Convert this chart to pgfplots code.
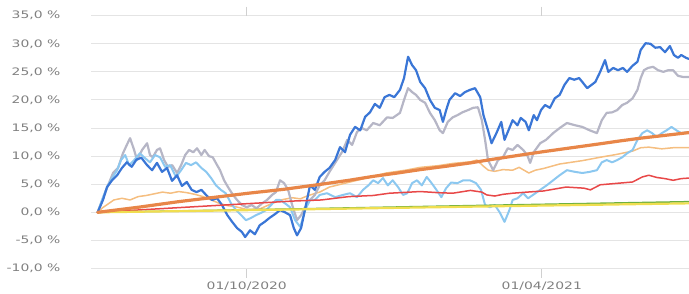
\documentclass[border=0pt]{standalone}
\usepackage{fontspec}
\setmainfont{DejaVu Sans}[FakeStretch=1.35]
\usepackage{pgfplots}
\pgfplotsset{compat=1.18}
\definecolor{cDB}{RGB}{58,118,214}
\definecolor{cGR}{RGB}{182,182,198}
\definecolor{cLB}{RGB}{140,200,240}
\definecolor{cOR}{RGB}{232,134,72}
\definecolor{cTN}{RGB}{245,190,128}
\definecolor{cRD}{RGB}{232,72,72}
\definecolor{cYL}{RGB}{240,222,80}
\definecolor{cGN}{RGB}{110,176,64}
\definecolor{cGrid}{RGB}{228,228,228}
\definecolor{cLab}{RGB}{128,128,128}
\begin{document}
\begin{tikzpicture}
\path[use as bounding box] (0,0) rectangle (689bp,294bp);
\begin{axis}[
  at={(91bp,25.5bp)}, anchor=south west,
  scale only axis, width=598bp, height=252.8bp,
  xmin=-4.1, xmax=364.8, ymin=-10, ymax=35,
  axis line style={draw=none},
  ytick={-10,-5,...,35},
  yticklabels={{-10,0 \%},{-5,0 \%},{0,0 \%},{5,0 \%},{10,0 \%},{15,0 \%},{20,0 \%},{25,0 \%},{30,0 \%},{35,0 \%}},
  xtick={92,274},
  xticklabels={01/10/2020,01/04/2021},
  ymajorgrids, grid style={draw=cGrid, line width=1bp},
  ytick style={draw=none},
  xtick style={draw=cGrid!80!gray, line width=1bp},
  tick align=outside, major tick length=9bp,
  ticklabel style={font=\fontsize{10.3bp}{12bp}\selectfont, text=cLab},
  yticklabel style={anchor=east, inner sep=0pt, xshift=-21.5bp},
  xticklabel style={anchor=north, inner sep=0pt, yshift=-4bp},
  every axis plot/.append style={line join=round, line cap=round},
]
% tan
\addplot[cTN, line width=1.5bp] coordinates {(0,0) (3,0.8) (8,1.8) (10,2.2) (15,2.5) (20,2.2) (25,2.8) (30,3.0) (35,3.3) (40,3.6) (45,3.4) (50,3.7) (55,3.5) (60,3.2) (65,2.8) (70,2.2) (75,1.6) (80,1.2) (85,1.0) (92,0.5) (100,0.6) (107,1.5) (113,2.2) (120,2.6) (125,2.4) (130,3.0) (137,3.6) (143,4.5) (150,5.0) (160,5.7) (170,6.4) (178,7.0) (190,7.5) (199,8.0) (210,8.3) (219,8.7) (230,9.0) (234,9.3) (238,8.2) (241,7.5) (245,7.3) (250,7.6) (256,7.5) (260,8.0) (266,7.0) (270,7.5) (275,7.8) (285,8.6) (299,9.2) (310,9.8) (320,10.3) (330,10.9) (335,11.5) (340,11.6) (348,11.3) (355,11.5) (365,11.5)};
% gray
\addplot[cGR, line width=2.2bp] coordinates {(0,0) (3.3,2.5) (6.4,4.8) (9.5,7.0) (12.6,7.9) (15.6,10.5) (18,12.0) (20,13.2) (22.5,11.1) (24.3,9.3) (27.4,11.1) (30.5,12.3) (32.3,10.2) (34,9.8) (36.6,11.1) (38.5,11.4) (41,9.3) (43.4,8.1) (46,8.4) (49,7.0) (51.5,8.4) (54,10.2) (56.4,11.1) (59,10.7) (61.3,11.4) (64,10.2) (66,11.1) (68.7,10.0) (71,9.8) (73.7,8.4) (75.5,7.5) (78,5.7) (80.4,4.5) (83.5,3.1) (86,2.2) (89,1.3) (92,0.9) (95,1.3) (98,0.7) (101.4,1.6) (104.5,2.2) (107.6,3.1) (110,3.6) (112.5,5.7) (115,5.2) (117.5,4.0) (120,1.3) (123,-1.4) (125.5,-0.5) (128,0.9) (131,2.2) (134,3.1) (137,4.8) (140,5.7) (143,7.2) (147.6,9.3) (150.7,10.7) (154,12.9) (157,12.0) (160,14.3) (163,15.0) (166,14.6) (170,15.9) (174,15.5) (178.5,16.9) (182,16.8) (186.5,17.7) (189,20.0) (191.5,22.1) (194,21.4) (196.4,20.9) (199,20.0) (202,19.5) (205,17.7) (208,16.4) (211,14.6) (213,14.1) (216,16.1) (219,16.9) (222,17.3) (225,17.8) (228.5,18.2) (231.6,18.6) (234.6,18.7) (237,16.4) (239,12.9) (240.8,9.3) (244,7.5) (247,9.3) (250,9.8) (253,11.4) (256,11.1) (259,12.0) (262.5,11.1) (265,10.2) (266.8,8.8) (269,10.7) (273,12.3) (276.6,12.9) (281,14.1) (285,15.0) (289.5,15.9) (294.5,15.5) (299,15.2) (303.5,14.6) (308,14.1) (311,16.4) (314,17.7) (317.4,17.8) (320.5,18.2) (323.6,19.1) (326.6,19.5) (330,20.3) (333,21.8) (335,23.9) (337,25.3) (339.5,25.7) (342.6,25.9) (345.7,25.3) (349,25.0) (352,25.3) (355,25.3) (358,24.3) (361,24.1) (364.7,24.1)};
% light blue
\addplot[cLB, line width=2bp] coordinates {(0,0) (2.7,2.2) (5.8,4.5) (8.9,6.1) (12,7.5) (14.4,9.3) (17,10.2) (19.4,8.4) (22.5,9.3) (26,10.5) (29,9.7) (32.3,8.9) (35.4,10.2) (38.5,9.8) (41.6,8.1) (44.7,8.4) (48.4,6.3) (51.5,7.5) (54.5,8.8) (57.6,8.4) (60.7,8.9) (64,7.9) (67,7.2) (70,6.1) (73,4.8) (76,4.0) (79,3.4) (82.3,1.6) (85.4,0.4) (88.5,-0.5) (91.5,-1.4) (94.6,-1.0) (97.7,-0.5) (100.8,-0.1) (104,0.4) (107,1.3) (110,2.2) (112.5,2.2) (115.6,1.6) (118.7,0.9) (121.8,-1.4) (125,-2.6) (128,0.4) (131,2.2) (134,2.2) (137,3.1) (141.5,3.4) (146.5,2.7) (151.4,3.1) (155.7,3.4) (160,2.7) (163.7,4.0) (167,4.8) (170,5.7) (173,5.2) (176,6.1) (179,4.8) (182,5.7) (185.3,4.5) (188.4,3.1) (191,3.4) (194,5.2) (197,5.7) (200,4.8) (203,6.3) (206,5.2) (209,4.0) (212,2.7) (215,4.3) (218,5.3) (222,5.2) (225.5,5.7) (229.7,5.7) (233.4,5.2) (236.5,4.0) (239,1.3) (242,0.9) (245,1.3) (248,0) (251,-1.7) (254,0.4) (256,2.2) (259,2.5) (262.5,3.4) (265.5,2.5) (268.6,3.1) (273,4.0) (277,4.8) (281,5.7) (285,6.6) (289.5,7.5) (294.5,7.2) (299,7.0) (303.5,7.2) (308,7.5) (311,8.9) (314,9.3) (317.4,8.9) (320.5,9.3) (323.6,9.8) (326.6,10.5) (330,11.1) (333,12.9) (336,14.1) (339,14.6) (342,14.1) (345,13.4) (348,14.1) (351,14.6) (354,15.2) (357,14.6) (360,14.1) (364.7,14.3)};
% dark blue
\addplot[cDB, line width=2.2bp] coordinates {(0,0) (3.3,2.2) (5.8,4.5) (8.9,5.7) (12,6.6) (15,7.9) (18,8.9) (21,8.1) (24,9.4) (27,9.7) (30.5,8.4) (33.6,7.5) (36.6,8.8) (39.7,7.2) (42.8,7.9) (45.9,5.6) (49,6.6) (52,4.7) (55,5.4) (58,4.0) (61,3.6) (64,4.0) (67.5,2.9) (70.6,2.2) (73.7,2.5) (76.7,1.3) (80,-0.5) (83,-1.7) (86,-2.8) (89,-3.5) (91,-4.4) (94,-3.2) (97,-3.9) (100,-2.3) (103,-1.7) (106,-1.0) (109.5,-0.3) (112.5,0.4) (115.6,0) (118.7,-0.5) (121,-2.8) (123,-4.1) (125.5,-2.8) (128.5,1.3) (131,4.8) (134,4.0) (137,6.3) (140,7.2) (143,7.9) (146.5,9.3) (149.5,11.6) (152.6,10.7) (155.7,13.8) (158.8,15.2) (162,14.6) (165,17.0) (168,17.8) (171,19.3) (174,18.6) (177,20.5) (180,20.9) (183,20.5) (186.5,21.8) (189,23.9) (191.5,27.7) (194,26.2) (196.4,25.3) (199,23.2) (202,22.1) (205,20.0) (208,18.6) (211,18.2) (213,16.1) (215,18.2) (217,20.0) (220.5,21.2) (223.6,20.7) (226.6,21.4) (229.7,21.8) (232.8,22.1) (236,20.5) (238,17.3) (240.8,14.6) (243,12.3) (246,14.1) (249,16.1) (251,12.9) (254,15.0) (256,16.4) (259,15.5) (261,16.8) (264,16.1) (266,14.6) (269,17.3) (271,16.4) (273.5,18.2) (276,19.1) (279,18.6) (282,20.3) (285,20.9) (288,22.7) (291,23.9) (294,23.6) (297,23.9) (299,23.2) (302,22.1) (307,23.2) (310,25.0) (313,27.1) (315,25.0) (318,25.7) (321,25.3) (324,25.7) (326.6,25.0) (330,26.1) (333,26.8) (335,28.9) (338,30.1) (341,30.0) (344,29.3) (347,29.4) (350,28.5) (353,29.6) (355.5,28.0) (358,27.5) (360,28.0) (363,27.5) (364.7,27.3)};
% red
\addplot[cRD, line width=1.5bp] coordinates {(0,0) (30,0.5) (60,1.0) (90,1.5) (120,2.0) (138,2.2) (155,2.8) (170,3.0) (180,3.4) (199,3.7) (210,3.5) (219,3.4) (230,3.9) (237,3.6) (240,3.1) (245,2.9) (250,3.2) (256,3.4) (265,3.6) (275,3.8) (289,4.5) (300,4.3) (304,4.0) (310,4.9) (322,5.2) (330,5.4) (336,6.3) (340,6.6) (345,6.2) (350,6.0) (355,5.7) (360,6.0) (365,6.1)};
% green
\addplot[cGN, line width=1.5bp] coordinates {(0,0) (120,0.6) (240,1.25) (365,1.9)};
% yellow
\addplot[cYL, line width=2.2bp] coordinates {(0,0) (120,0.5) (240,1.05) (365,1.6)};
% thick orange
\addplot[cOR, line width=3.2bp] coordinates {(0,0) (25,0.9) (50,1.9) (70,2.6) (93,3.4) (115,4.1) (138,5.0) (155,5.7) (170,6.4) (185,7.0) (199,7.6) (215,8.2) (230,8.8) (245,9.5) (261,10.2) (275,10.8) (290,11.4) (310,12.2) (322,12.7) (335,13.2) (350,13.7) (365,14.2)};
\end{axis}
\end{tikzpicture}
\end{document}
